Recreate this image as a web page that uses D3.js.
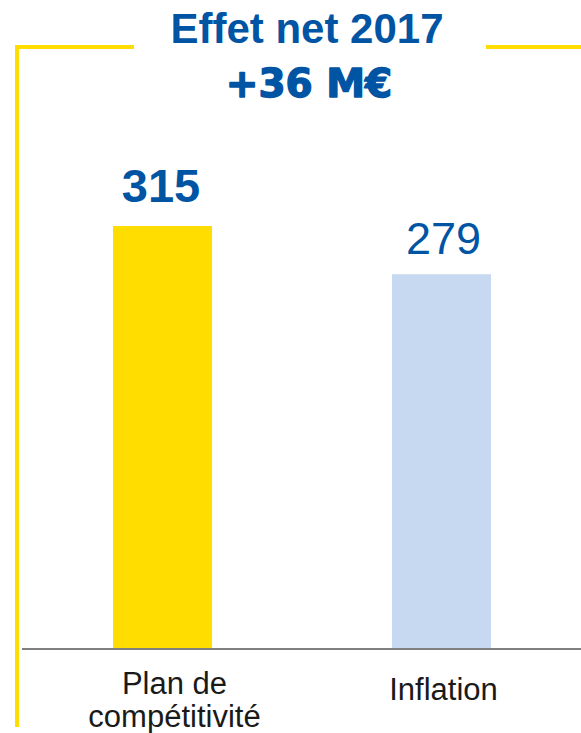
<!DOCTYPE html>
<html>
<head>
<meta charset="utf-8">
<script src="https://cdn.jsdelivr.net/npm/d3@7"></script>
<style>
html,body{margin:0;padding:0;background:#fff;}
svg{display:block;}
</style>
</head>
<body>
<svg id="chart" width="581" height="733"></svg>
<script>
const categories = ["Plan de compétitivité", "Inflation"];
const categoryLines = [["Plan de", "compétitivité"], ["Inflation"]];
const values = [315, 279];
const valueLabels = ["315", "279"];
const title = "Effet net 2017";
const subtitle = "+36 M€";

const colors = ["#FFDD00", "#C6D9F1"];
const blue = "#0054A4";

const svg = d3.select("#chart");

const x = d3.scaleBand().domain(categories).range([23, 581]).paddingInner(0.645).paddingOuter(0.3225);
const y = d3.scaleLinear().domain([0, 315]).range([648, 226]);

// yellow frame
const frame = svg.append("g").attr("fill", "none").attr("stroke", "#FFDD00").attr("stroke-width", 4);
frame.append("path").attr("d", "M134,47 H17 V727");
frame.append("path").attr("d", "M486,47 H581");

// title
svg.append("text").attr("x", 307).attr("y", 42.5).attr("text-anchor", "middle")
  .attr("font-family", "Liberation Sans, Arial, sans-serif").attr("font-weight", "bold")
  .attr("font-size", 42).attr("fill", blue).text(title);
svg.append("text").attr("x", 309).attr("y", 97).attr("text-anchor", "middle")
  .attr("font-family", "DejaVu Sans, sans-serif").attr("font-weight", "bold")
  .attr("font-size", 39).attr("fill", blue)
  .attr("stroke", blue).attr("stroke-width", 1.4).attr("stroke-linejoin", "round")
  .text(subtitle);

// bars
svg.selectAll("rect.bar").data(values).join("rect").attr("class", "bar")
  .attr("x", (d, i) => x(categories[i]))
  .attr("width", x.bandwidth())
  .attr("y", d => y(d))
  .attr("height", d => y(0) - y(d))
  .attr("fill", (d, i) => colors[i]);

// value labels
svg.selectAll("text.val").data(values).join("text").attr("class", "val")
  .attr("x", (d, i) => x(categories[i]) + x.bandwidth() / 2 + (i === 0 ? -1.5 : 2))
  .attr("y", (d, i) => y(d) - (i === 0 ? 24.5 : 20))
  .attr("text-anchor", "middle")
  .attr("font-family", "Liberation Sans, Arial, sans-serif")
  .attr("font-weight", (d, i) => i === 0 ? "bold" : "normal")
  .attr("font-size", (d, i) => i === 0 ? 47 : 45)
  .attr("fill", blue)
  .text((d, i) => valueLabels[i]);

// axis line
svg.append("line").attr("x1", 22).attr("x2", 581).attr("y1", y(0) + 1).attr("y2", y(0) + 1)
  .attr("stroke", "#7F7F7F").attr("stroke-width", 2);

// category labels
const lab = svg.selectAll("g.cat").data(categories).join("g").attr("class", "cat");
lab.each(function(c, i) {
  const lines = categoryLines[i];
  const cx = x(c) + x.bandwidth() / 2;
  const t = d3.select(this).append("text")
    .attr("text-anchor", "middle")
    .attr("font-family", "Liberation Sans, Arial, sans-serif")
    .attr("font-size", 31).attr("fill", "#1A1A1A");
  const base = lines.length === 1 ? 700 : 694;
  lines.forEach((l, k) => {
    t.append("tspan").attr("x", cx + (i === 0 ? 12 : 2)).attr("y", base + k * 33).text(l);
  });
});
</script>
</body>
</html>
